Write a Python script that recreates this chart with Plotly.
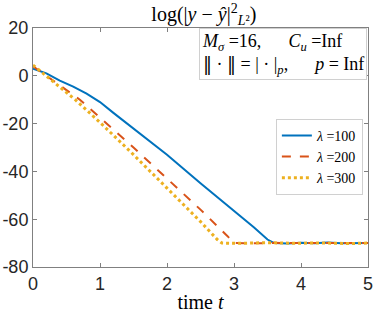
import plotly.graph_objects as go

t_blue = [0, 0.2, 0.4, 0.6, 0.8, 1.0, 1.2, 1.5, 2.0, 2.5, 3.0, 3.3, 3.5, 3.6, 3.8, 4.0, 4.2, 4.4, 4.6, 4.8, 5.0]
y_blue = [3, 1, -2, -4.5, -7.5, -11, -15.5, -22, -33, -45, -56.5, -63.5, -68.5, -70, -70.2, -69.9, -70.1, -69.8, -70.1, -69.9, -70]
t_red = [0, 0.2, 0.4, 0.7, 1.0, 1.5, 2.0, 2.5, 2.9, 3.0, 3.3, 3.6, 4.0, 4.3, 4.6, 5.0]
y_red = [4, 0, -4, -10, -17.5, -30, -43, -56, -67, -70, -70.1, -69.9, -70, -70.1, -69.9, -70]
t_yel = [0, 0.2, 0.4, 0.63, 1.0, 1.5, 2.0, 2.5, 2.75, 2.82, 3.1, 3.5, 3.9, 4.3, 4.7, 5.0]
y_yel = [4.5, 0, -4.5, -10, -19.5, -33, -47, -61, -68.5, -70, -70.1, -69.8, -70.1, -69.9, -70.2, -70]

x_ticks = [0, 1, 2, 3, 4, 5]
y_ticks = [20, 0, -20, -40, -60, -80]
y_labels = ["20", "0", "-20", "-40", "-60", "-80"]

serif = "Liberation Serif"
sans = "Liberation Sans"

fig = go.Figure()
fig.add_trace(go.Scatter(x=t_blue, y=y_blue, mode="lines", name="<i>λ</i> =100",
                         line=dict(color="#0072BD", width=2)))
fig.add_trace(go.Scatter(x=t_red, y=y_red, mode="lines", name="<i>λ</i> =200",
                         line=dict(color="#D95319", width=2, dash="dash")))
fig.add_trace(go.Scatter(x=t_yel, y=y_yel, mode="lines", name="<i>λ</i> =300",
                         line=dict(color="#EDB120", width=3, dash="dot")))

axis_common = dict(showline=True, linecolor="#808080", linewidth=1, mirror="ticks",
                   ticks="inside", ticklen=4, tickcolor="#808080", showgrid=False,
                   zeroline=False, automargin=False,
                   tickfont=dict(family=sans, size=18, color="#262626"))

fig.update_layout(
    width=374, height=317,
    margin=dict(l=33, r=6, t=28, b=50),
    paper_bgcolor="white", plot_bgcolor="white",
    title=dict(text="log(|<i>y</i> − <i>ŷ</i>|<sup>2</sup><sub><i>L</i>²</sub>)", x=0.545, xanchor="center",
               y=0.955, yanchor="middle", font=dict(family=serif, size=20, color="#000")),
    xaxis=dict(range=[0, 5], tickvals=x_ticks, title=dict(text="time <i>t</i>", standoff=2,
               font=dict(family=serif, size=20, color="#000")), **axis_common),
    yaxis=dict(range=[-80, 20], tickvals=y_ticks, ticktext=y_labels, **axis_common),
    legend=dict(x=0.725, y=0.62, xanchor="left", yanchor="top", bgcolor="white",
                bordercolor="#d0d0d0", borderwidth=1, font=dict(family=serif, size=14, color="#000"),
                itemwidth=30, tracegroupgap=0),
    showlegend=True,
)

sp = "\u00a0" * 6
fig.add_annotation(xref="paper", yref="paper", x=0.998, y=0.998, xanchor="right", yanchor="top",
                   text=f"<i>M</i><sub><i>σ</i></sub> =16,{sp}<i>C</i><sub><i>u</i></sub> =Inf<br>"
                        "<span style='font-family:DejaVu Serif'>‖</span> · <span style='font-family:DejaVu Serif'>‖</span>"
                        f" = | · |<sub><i>p</i></sub>,{sp}<i>p</i> = Inf",
                   showarrow=False, align="left", bgcolor="white", bordercolor="#d0d0d0", borderwidth=1,
                   borderpad=2, font=dict(family=serif, size=18, color="#000"))

fig.write_html("out.html", post_script="document.body.style.margin='0';",
               config={"displayModeBar": False})
